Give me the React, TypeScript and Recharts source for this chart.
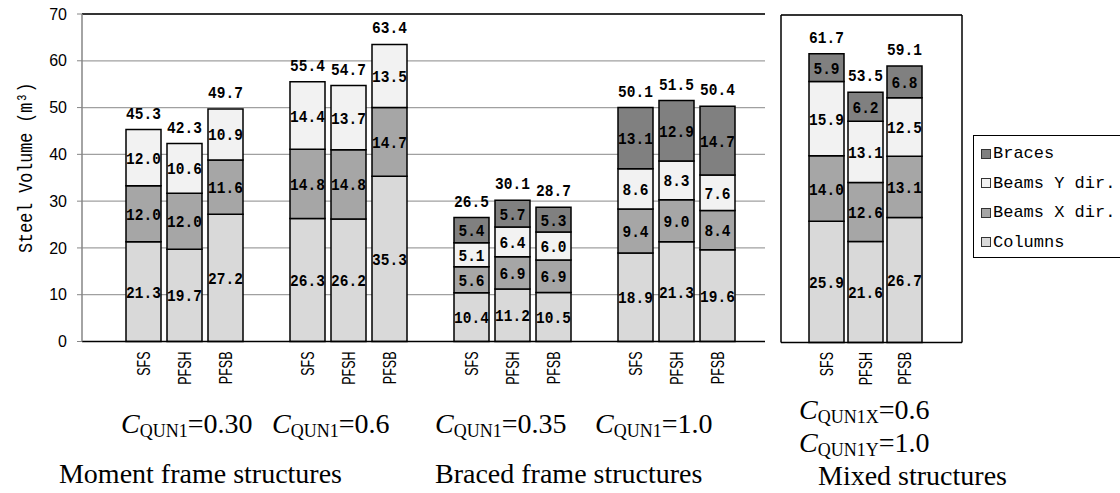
import React from 'react';
import { BarChart, Bar, XAxis, YAxis, CartesianGrid, ReferenceLine, LabelList, Legend, Label } from 'recharts';

// slots with '' are the empty gaps between groups
const mainSlots = ['', 'SFS', 'PFSH', 'PFSB', '', 'SFS', 'PFSH', 'PFSB', '', 'SFS', 'PFSH', 'PFSB', '', 'SFS', 'PFSH', 'PFSB'];
const mainColumns = [null, 21.3, 19.7, 27.2, null, 26.3, 26.2, 35.3, null, 10.4, 11.2, 10.5, null, 18.9, 21.3, 19.6];
const mainBeamsX = [null, 12.0, 12.0, 11.6, null, 14.8, 14.8, 14.7, null, 5.6, 6.9, 6.9, null, 9.4, 9.0, 8.4];
const mainBeamsY = [null, 12.0, 10.6, 10.9, null, 14.4, 13.7, 13.5, null, 5.1, 6.4, 6.0, null, 8.6, 8.3, 7.6];
const mainBraces = [null, 0, 0, 0, null, 0, 0, 0, null, 5.4, 5.7, 5.3, null, 13.1, 12.9, 14.7];
const mainTotals = [null, 45.3, 42.3, 49.7, null, 55.4, 54.7, 63.4, null, 26.5, 30.1, 28.7, null, 50.1, 51.5, 50.4];

const mixedSlots = ['SFS', 'PFSH', 'PFSB'];
const mixedColumns = [25.9, 21.6, 26.7];
const mixedBeamsX = [14.0, 12.6, 13.1];
const mixedBeamsY = [15.9, 13.1, 12.5];
const mixedBraces = [5.9, 6.2, 6.8];
const mixedTotals = [61.7, 53.5, 59.1];

const yTicks = [0, 10, 20, 30, 40, 50, 60, 70];

const seriesKeys = ['columns', 'beamsX', 'beamsY', 'braces'];
const seriesNames = ['Columns', 'Beams X dir.', 'Beams Y dir.', 'Braces'];
const seriesColors = ['#d9d9d9', '#a6a6a6', '#f2f2f2', '#808080'];

const mainGroupParams = ['=0.30', '=0.6', '=0.35', '=1.0'];
const structureNames = ['Moment frame structures', 'Braced frame structures', 'Mixed structures'];

// total is attached to the highest non-empty series of each bar
const buildRows = (slots: string[], cols: any[], bx: any[], by: any[], br: any[], totals: any[]) =>
  slots.map((name, i) => {
    const row: any = { name, columns: cols[i], beamsX: bx[i], beamsY: by[i], braces: br[i] };
    let top: string | null = null;
    seriesKeys.forEach((k) => { if (row[k]) top = k; });
    seriesKeys.forEach((k) => { row['top_' + k] = k === top ? totals[i] : null; });
    return row;
  });

const mainData = buildRows(mainSlots, mainColumns, mainBeamsX, mainBeamsY, mainBraces, mainTotals);
const mixedData = buildRows(mixedSlots, mixedColumns, mixedBeamsX, mixedBeamsY, mixedBraces, mixedTotals);

const monoFont = '"Liberation Mono", "DejaVu Sans Mono", monospace';
const serifFont = '"Liberation Serif", "Times New Roman", serif';

const ValueText = ({ x, y, v }: { x: number; y: number; v: number }) => (
  <g transform={`translate(${x},${y}) scale(1,1.15)`}>
    <text x={0} y={0} textAnchor="middle" fontFamily={monoFont} fontWeight="bold" fontSize={14.5} fill="#000">
      {Number(v).toFixed(1)}
    </text>
  </g>
);

const SegmentLabel = (props: any) => {
  const { x, y, width, height, value } = props;
  if (value == null || value === 0) return null;
  return <ValueText x={x + width / 2} y={y + height / 2 + 6} v={value} />;
};

const TotalLabel = (props: any) => {
  const { x, y, width, value } = props;
  if (value == null) return null;
  return <ValueText x={x + width / 2} y={y - 11} v={value} />;
};

const SlotTick = (props: any) => {
  const { x, y, payload } = props;
  if (!payload || !payload.value) return null;
  return (
    <g transform={`translate(${x},${y}) rotate(-90) scale(1,1.5)`}>
      <text x={0} y={0} dy="0.36em" textAnchor="end" fontFamily='"Liberation Sans", Arial, sans-serif'
        fontSize={12.5} fill="#000">
        {payload.value}
      </text>
    </g>
  );
};

const YLabel = (props: any) => {
  const vb = props.viewBox || { x: 0, y: 14, width: 82, height: 327 };
  const cx = vb.x + 25;
  const cy = vb.y + vb.height / 2 - 10;
  return (
    <g transform={`translate(${cx},${cy}) rotate(-90) scale(1,1.2)`}>
      <text x={0} y={0} dy="0.36em" textAnchor="middle" fontFamily={monoFont} fontSize={16.7} fill="#000">
        Steel Volume (m³)
      </text>
    </g>
  );
};

const LegendBox = () => {
  const items = seriesNames.map((n, i) => ({ n, c: seriesColors[i] })).reverse();
  return (
    <div style={{ border: '1.5px solid #000', background: '#fff', padding: '3px 0 0 7px', width: 170, height: 123, boxSizing: 'border-box' }}>
      {items.map((it) => (
        <div key={it.n} style={{ display: 'flex', alignItems: 'center', height: 29.5, fontFamily: monoFont, fontSize: 17, color: '#000', whiteSpace: 'pre' }}>
          <span style={{ display: 'inline-block', width: 10, height: 10, border: '1px solid #333', background: it.c, boxSizing: 'border-box', marginRight: 2 }} />
          {it.n}
        </div>
      ))}
    </div>
  );
};

const renderBars = () =>
  seriesKeys.map((key, i) => (
    <Bar key={key} dataKey={key} name={seriesNames[i]} stackId="s" fill={seriesColors[i]}
      stroke="#000" strokeWidth={1.5} barSize={35} isAnimationActive={false} yAxisId="left">
      <LabelList dataKey={key} content={SegmentLabel} />
      <LabelList dataKey={'top_' + key} content={TotalLabel} />
    </Bar>
  ));

const CText = ({ x, y, sub, val }: { x: number; y: number; sub: string; val: string }) => (
  <text x={x} y={y} fontFamily={serifFont} fontSize={28} fill="#000">
    <tspan fontStyle="italic">C</tspan>
    <tspan fontSize={18} dy={4}>{sub}</tspan>
    <tspan dy={-4}>{val}</tspan>
  </text>
);

export default function App() {
  return (
    <div style={{ position: 'absolute', left: 0, top: 0, width: 1120, height: 493, overflow: 'hidden', background: '#fff' }}>
      <div style={{ position: 'absolute', left: 0, top: 0 }}>
        <BarChart width={770} height={400} data={mainData} margin={{ top: 14, right: 5, left: 0, bottom: 0 }} barCategoryGap={0}>
          <CartesianGrid yAxisId="left" vertical={false} stroke="#a0a0a0" strokeWidth={1.2} />
          <XAxis dataKey="name" interval={0} height={58.5} tickSize={0} tickMargin={10} tick={SlotTick}
            axisLine={{ stroke: '#000', strokeWidth: 1.5 }} padding={{ left: 0, right: 27 }} />
          <YAxis yAxisId="left" domain={[0, 70]} ticks={yTicks} width={82} tickSize={5} tickMargin={10}
            axisLine={{ stroke: '#868686', strokeWidth: 1.5 }} tickLine={{ stroke: '#868686' }}
            tick={{ fontSize: 16, fill: '#000', fontFamily: '"Liberation Sans", Arial, sans-serif' }}>
            <Label content={YLabel} />
          </YAxis>
          <ReferenceLine yAxisId="left" y={70} stroke="#000" strokeWidth={1.5} />
          {renderBars()}
        </BarChart>
      </div>
      <div style={{ position: 'absolute', left: 770, top: 0 }}>
        <BarChart width={352} height={400} data={mixedData} margin={{ top: 15, right: 159, left: 10, bottom: 0 }} barCategoryGap={0}>
          <CartesianGrid yAxisId="left" vertical={false} stroke="#a0a0a0" strokeWidth={1.2} />
          <XAxis dataKey="name" interval={0} height={57.5} tickSize={0} tickMargin={9.5} tick={SlotTick}
            axisLine={{ stroke: '#000', strokeWidth: 1.5 }} padding={{ left: 26, right: 38 }} />
          <YAxis yAxisId="left" domain={[0, 70]} ticks={yTicks} width={1} tick={false} tickLine={false}
            axisLine={{ stroke: '#000', strokeWidth: 1.5 }} />
          <YAxis yAxisId="right" orientation="right" domain={[0, 70]} ticks={yTicks} width={1} tick={false} tickLine={false}
            axisLine={{ stroke: '#000', strokeWidth: 1.5 }} />
          <ReferenceLine yAxisId="left" y={70} stroke="#000" strokeWidth={1.5} />
          {renderBars()}
          <Legend layout="horizontal" verticalAlign="middle" align="center" content={LegendBox} width={170} height={123}
            wrapperStyle={{ position: 'absolute', left: 203, top: 135, width: 170, height: 123 }} />
        </BarChart>
      </div>
      <svg width={1120} height={493} style={{ position: 'absolute', left: 0, top: 0, pointerEvents: 'none' }}>
        <CText x={121} y={433} sub="QUN1" val={mainGroupParams[0]} />
        <CText x={272} y={433} sub="QUN1" val={mainGroupParams[1]} />
        <CText x={435} y={433} sub="QUN1" val={mainGroupParams[2]} />
        <CText x={595} y={433} sub="QUN1" val={mainGroupParams[3]} />
        <CText x={799} y={419} sub="QUN1X" val="=0.6" />
        <CText x={799} y={452} sub="QUN1Y" val="=1.0" />
        <text x={342} y={483} textAnchor="end" fontFamily={serifFont} fontSize={28} fill="#000">{structureNames[0]}</text>
        <text x={435} y={483} fontFamily={serifFont} fontSize={28} fill="#000">{structureNames[1]}</text>
        <text x={818} y={485} fontFamily={serifFont} fontSize={28} fill="#000">{structureNames[2]}</text>
      </svg>
    </div>
  );
}
